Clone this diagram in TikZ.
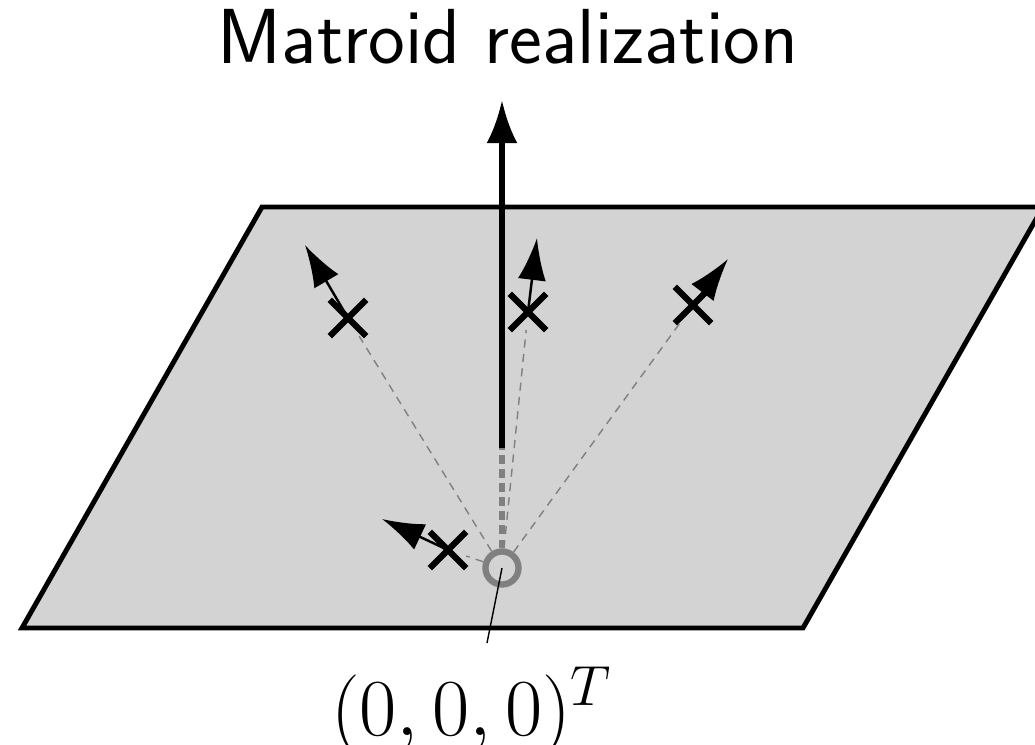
\RequirePackage{fix-cm}
\documentclass[tikz,border=0pt]{standalone}
\usepackage{tikz}
\usetikzlibrary{arrows.meta,shapes.misc}
\definecolor{PlaneGray}{RGB}{211,211,211}
\definecolor{ZeroGray}{RGB}{128,128,128}

\begin{document}
\begin{tikzpicture}[x=0.01cm,y=-0.01cm,
  vec/.style={draw,cross out,line width=1.8pt,minimum size=0.3cm,inner sep=0pt},
  zero/.style={draw=ZeroGray,circle,line width=1.8pt,minimum size=0.33cm,inner sep=0pt},
  ray/.style={ZeroGray,line width=0.4pt,dash pattern=on 2.3pt off 1.8pt},
  dir/.style={-{Latex[length=4.2mm,width=2.8mm]},line width=0.7pt},
]
\useasboundingbox (0,0) rectangle (1035,745);
% the plane
\draw[fill=PlaneGray,line width=1.4pt] (22,628) -- (803,628) -- (1043,207) -- (262,207) -- cycle;
\node[font=\fontsize{22.2}{27}\selectfont\sffamily,anchor=base] (title) at (508,63) {Matroid realization};
\node[zero] (o) at (502,568) {};
\node[vec] (v1) at (348,318) {};
\node[vec] (v2) at (528,312) {};
\node[vec] (v3) at (693,305) {};
\node[vec] (v4) at (448,550) {};
\coordinate (t1) at (305,245);
\coordinate (t2) at (537,238);
\coordinate (t3) at (728,259);
\coordinate (t4) at (382,519);
\coordinate (n0) at (502,448);
\coordinate (n1) at (502,100);
\draw[ray] (o) -- (v1);
\draw[ray] (o) -- (v2);
\draw[ray] (o) -- (v3);
\draw[ray] (o) -- (v4);
% normal vector
\draw[ZeroGray,line width=1.5pt,dash pattern=on 2.5pt off 1.5pt] (o) -- (n0);
\draw[-{Latex[length=4.3mm,width=3.1mm]},line width=1.6pt] (n0) -- (n1);
\draw[dir] (v1.center) -- (t1);
\draw[dir] (v2.center) -- (t2);
\draw[dir] (v3.center) -- (t3);
\draw[dir] (v4.center) -- (t4);
% origin label
\node[font=\fontsize{23}{28}\selectfont,anchor=base] (lbl) at (472,735) {$(0,0,0)^T$};
\coordinate (lp) at (487,643);
\draw[line width=0.4pt] (o.center) -- (lp);
\end{tikzpicture}
\end{document}
